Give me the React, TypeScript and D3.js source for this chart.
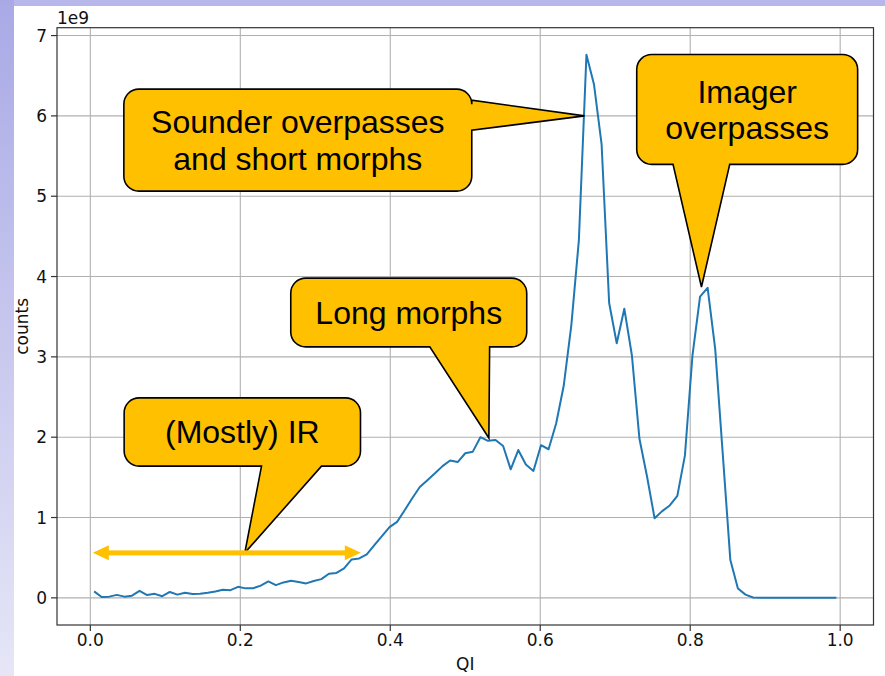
import React from "react";
import * as d3 from "d3";

// Histogram of QI values (counts in units of 1e9), 99 equal bins on [0, 1]
const counts: number[] = [
  0.08, 0.01, 0.015, 0.037, 0.015, 0.027, 0.087, 0.035, 0.05, 0.02,
  0.073, 0.04, 0.063, 0.048, 0.052, 0.063, 0.08, 0.1, 0.096, 0.137,
  0.118, 0.12, 0.152, 0.205, 0.158, 0.192, 0.213, 0.197, 0.18, 0.21,
  0.233, 0.3, 0.31, 0.366, 0.478, 0.49, 0.54, 0.656, 0.768, 0.88,
  0.946, 1.09, 1.24, 1.38, 1.465, 1.55, 1.64, 1.71, 1.69, 1.8,
  1.82, 2.0, 1.955, 1.965, 1.89, 1.6, 1.84, 1.66, 1.58, 1.9,
  1.85, 2.17, 2.64, 3.39, 4.45, 6.76, 6.39, 5.65, 3.67, 3.17,
  3.6, 3.02, 1.98, 1.51, 0.99, 1.08, 1.15, 1.27, 1.77, 3.02,
  3.75, 3.86, 3.1, 1.79, 0.47, 0.117, 0.04, 0.005, 0, 0,
  0, 0, 0, 0, 0, 0, 0, 0, 0,
];

const xTicks = [0, 0.2, 0.4, 0.6, 0.8, 1.0];
const yTicks = [0, 1, 2, 3, 4, 5, 6, 7];

// Annotation callouts: text lines, pointer tip (data units), box extent (data units)
// and where the pointer leaves the box.
type Callout = {
  lines: string[];
  tip: [number, number];
  box: { x0: number; x1: number; y0: number; y1: number };
  side: "right" | "bottom";
  base: [number, number];
};

const callouts: Callout[] = [
  {
    lines: ["Sounder overpasses", "and short morphs"],
    tip: [0.659, 6.0],
    box: { x0: 0.0447, x1: 0.5087, y0: 6.333, y1: 5.063 },
    side: "right",
    base: [6.196, 5.822],
  },
  {
    lines: ["Imager", "overpasses"],
    tip: [0.815, 3.87],
    box: { x0: 0.7287, x1: 1.0233, y0: 6.765, y1: 5.396 },
    side: "bottom",
    base: [0.7771, 0.8527],
  },
  {
    lines: ["Long morphs"],
    tip: [0.5315, 1.99],
    box: { x0: 0.2673, x1: 0.582, y0: 3.98, y1: 3.124 },
    side: "bottom",
    base: [0.4527, 0.5325],
  },
  {
    lines: ["(Mostly) IR"],
    tip: [0.206, 0.56],
    box: { x0: 0.0451, x1: 0.3603, y0: 2.49, y1: 1.64 },
    side: "bottom",
    base: [0.2283, 0.3083],
  },
];

// Range marked by the double-headed arrow
const irRange: [number, number] = [0.0033, 0.3607];
const irArrowLevel = 0.56;

const W = 885;
const H = 676;
const plot = { left: 57, right: 873.5, top: 27.7, bottom: 625 };

const binCenters = counts.map((_, i) => (i + 0.5) / counts.length);

function paddedExtent(vals: number[]): [number, number] {
  const [lo, hi] = d3.extent(vals) as [number, number];
  const pad = (hi - lo) * 0.05;
  return [lo - pad, hi + pad];
}

const x = d3.scaleLinear().domain(paddedExtent(binCenters)).range([plot.left, plot.right]);
const y = d3.scaleLinear().domain(paddedExtent(counts)).range([plot.bottom, plot.top]);

const line = d3
  .line<number>()
  .x((_, i) => x(binCenters[i]))
  .y((d) => y(d));

function calloutPath(c: Callout): string {
  const x0 = x(c.box.x0), x1 = x(c.box.x1);
  const y0 = y(c.box.y0), y1 = y(c.box.y1);
  const r = 15;
  const tx = x(c.tip[0]), ty = y(c.tip[1]);
  const p = d3.path();
  p.moveTo(x0 + r, y0);
  p.lineTo(x1 - r, y0);
  p.arcTo(x1, y0, x1, y0 + r, r);
  if (c.side === "right") {
    p.lineTo(x1, y(c.base[0]));
    p.lineTo(tx, ty);
    p.lineTo(x1, y(c.base[1]));
  }
  p.lineTo(x1, y1 - r);
  p.arcTo(x1, y1, x1 - r, y1, r);
  if (c.side === "bottom") {
    p.lineTo(x(c.base[1]), y1);
    p.lineTo(tx, ty);
    p.lineTo(x(c.base[0]), y1);
  }
  p.lineTo(x0 + r, y1);
  p.arcTo(x0, y1, x0, y1 - r, r);
  p.lineTo(x0, y0 + r);
  p.arcTo(x0, y0, x0 + r, y0, r);
  p.closePath();
  return p.toString();
}

const tickFont = "'DejaVu Sans', sans-serif";
const calloutFont = "'Liberation Sans', Arial, sans-serif";
const yellow = "#FFC000";

export default function App() {
  const ax0 = x(irRange[0]);
  const ax1 = x(irRange[1]);
  const ay = y(irArrowLevel);
  const headLen = 16;
  const headHalf = 7.5;

  return (
    <svg
      width={W}
      height={H}
      viewBox={`0 0 ${W} ${H}`}
      style={{ position: "absolute", left: 0, top: 0, background: "#fff" }}
    >
      <defs>
        <linearGradient id="edgeFade" x1="0" y1="0" x2="0" y2="1">
          <stop offset="0" stopColor="#a9a9e6" />
          <stop offset="1" stopColor="#e6e6f7" />
        </linearGradient>
        <clipPath id="plotClip">
          <rect x={plot.left} y={plot.top} width={plot.right - plot.left} height={plot.bottom - plot.top} />
        </clipPath>
      </defs>

      {/* slide frame */}
      <rect x={0} y={0} width={W} height={H} fill="#fff" />
      <rect x={0} y={0} width={W} height={6} fill="#b7b7ec" />
      <rect x={0} y={0} width={14} height={H} fill="url(#edgeFade)" />

      {/* grid */}
      <g stroke="#b0b0b0" strokeWidth={1.1}>
        {xTicks.map((t) => (
          <line key={`gx${t}`} x1={x(t)} x2={x(t)} y1={plot.top} y2={plot.bottom} />
        ))}
        {yTicks.map((t) => (
          <line key={`gy${t}`} x1={plot.left} x2={plot.right} y1={y(t)} y2={y(t)} />
        ))}
      </g>

      {/* histogram line */}
      <path
        d={line(counts) ?? ""}
        fill="none"
        stroke="#1f77b4"
        strokeWidth={2}
        strokeLinejoin="round"
        clipPath="url(#plotClip)"
      />

      {/* spines */}
      <rect
        x={plot.left}
        y={plot.top}
        width={plot.right - plot.left}
        height={plot.bottom - plot.top}
        fill="none"
        stroke="#333"
        strokeWidth={1.2}
      />

      {/* ticks and labels */}
      <g fontFamily={tickFont} fontSize={17} fill="#111">
        {xTicks.map((t) => (
          <g key={`tx${t}`}>
            <line x1={x(t)} x2={x(t)} y1={plot.bottom} y2={plot.bottom + 6} stroke="#333" strokeWidth={1.2} />
            <text x={x(t)} y={plot.bottom + 21} textAnchor="middle">
              {d3.format(".1f")(t)}
            </text>
          </g>
        ))}
        {yTicks.map((t) => (
          <g key={`ty${t}`}>
            <line x1={plot.left - 6} x2={plot.left} y1={y(t)} y2={y(t)} stroke="#333" strokeWidth={1.2} />
            <text x={plot.left - 10} y={y(t)} textAnchor="end" dominantBaseline="central">
              {t}
            </text>
          </g>
        ))}
        <text x={plot.left} y={24}>1e9</text>
        <text x={(plot.left + plot.right) / 2} y={670} textAnchor="middle">QI</text>
        <text
          transform={`translate(28, ${(plot.top + plot.bottom) / 2}) rotate(-90)`}
          textAnchor="middle"
        >
          counts
        </text>
      </g>

      {/* callouts */}
      {callouts.map((c, k) => {
        const cx = (x(c.box.x0) + x(c.box.x1)) / 2;
        const cy = (y(c.box.y0) + y(c.box.y1)) / 2;
        const lh = 36.7;
        const first = cy + 11.5 - ((c.lines.length - 1) * lh) / 2;
        return (
          <g key={`c${k}`}>
            <path d={calloutPath(c)} fill={yellow} stroke="#000" strokeWidth={1.6} strokeLinejoin="miter" />
            {c.lines.map((ln, j) => (
              <text
                key={j}
                x={cx}
                y={first + j * lh}
                textAnchor="middle"
                fontFamily={calloutFont}
                fontSize={32}
                fill="#000"
              >
                {ln}
              </text>
            ))}
          </g>
        );
      })}

      {/* double-headed range arrow */}
      <g fill={yellow} stroke="none">
        <rect x={ax0 + headLen - 1} y={ay - 2.5} width={ax1 - ax0 - 2 * headLen + 2} height={5} />
        <path d={`M${ax0},${ay} L${ax0 + headLen},${ay - headHalf} L${ax0 + headLen},${ay + headHalf} Z`} />
        <path d={`M${ax1},${ay} L${ax1 - headLen},${ay - headHalf} L${ax1 - headLen},${ay + headHalf} Z`} />
      </g>
    </svg>
  );
}
